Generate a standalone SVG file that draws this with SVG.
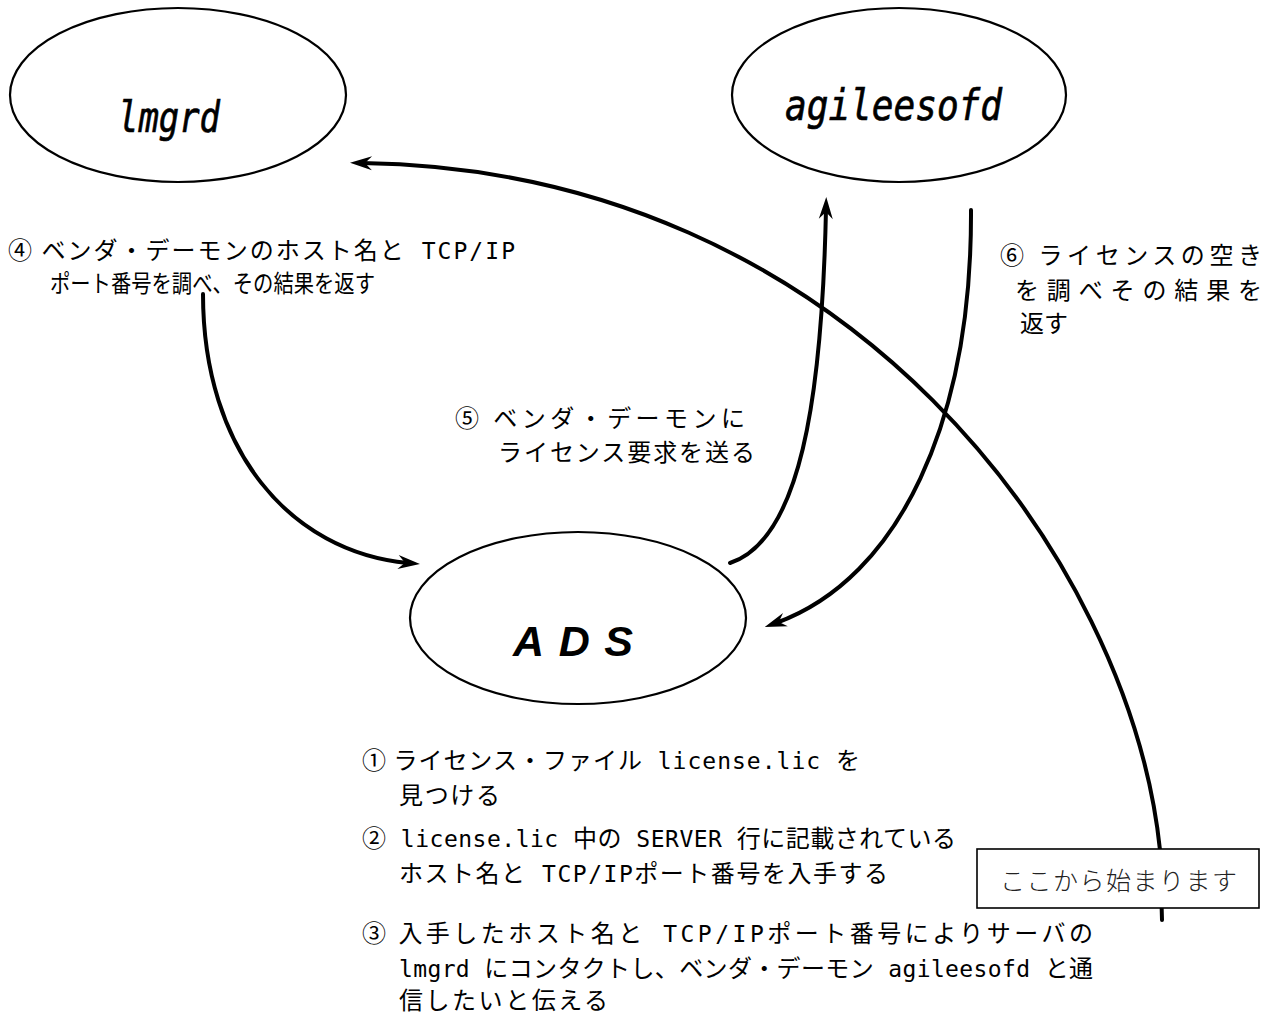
<svg xmlns="http://www.w3.org/2000/svg" width="1274" height="1017" viewBox="0 0 1274 1017">
<style>
.node{fill:#fff;stroke:#000;stroke-width:2.2}
.lbl{font-family:"DejaVu Sans Mono","Liberation Mono",monospace;font-style:oblique;font-size:42px;fill:#000;stroke:#000;stroke-width:0.7}
.ads{font-family:"Liberation Sans",Arial,sans-serif;font-style:italic;font-weight:bold;font-size:43px;fill:#000}
.t{font-family:"Noto Sans CJK JP","Noto Sans CJK SC",sans-serif;font-size:24px;font-weight:400;fill:#000}
.m{font-family:"DejaVu Sans Mono","Liberation Mono",monospace;font-size:23px}
.con{fill:none;stroke:#000;stroke-width:4;stroke-linecap:round}
.note{fill:#fff;stroke:#000;stroke-width:1.6}
.nt{font-family:"Noto Sans CJK JP",sans-serif;font-weight:300;font-size:25px;fill:#222}
</style>
<defs>
<marker id="ah" markerUnits="userSpaceOnUse" markerWidth="26" markerHeight="18" viewBox="-2 -9 26 18" refX="10" refY="0" orient="auto" overflow="visible">
<path d="M0,-7 L22,0 L0,7 L7,0 z" fill="#000"/>
</marker>
</defs>
<rect width="1274" height="1017" fill="#fff"/>

<g id="connectors">
<path class="con" d="M1162,920 L1160,850 C1130,560 850,170 362,163" marker-end="url(#ah)"/>
<path class="con" d="M203,294 C203,450 290,552 408,563" marker-end="url(#ah)"/>
<path class="con" d="M730,563 C800,540 822,400 826,209" marker-end="url(#ah)"/>
<path class="con" d="M971,210 C972,420 900,578 776,623" marker-end="url(#ah)"/>
</g>

<g id="node-lmgrd">
<ellipse class="node" cx="178" cy="95" rx="168" ry="87"/>
<text class="lbl" x="118" y="132" textLength="102" lengthAdjust="spacingAndGlyphs">lmgrd</text>
</g>

<g id="node-agileesofd">
<ellipse class="node" cx="899" cy="95" rx="167" ry="87"/>
<text class="lbl" x="785" y="120" textLength="217" lengthAdjust="spacingAndGlyphs">agileesofd</text>
</g>

<g id="node-ads">
<ellipse class="node" cx="578" cy="618" rx="168" ry="86"/>
<text class="ads" x="513" y="656" textLength="120" lengthAdjust="spacing">ADS</text>
</g>

<g id="note-start">
<rect class="note" x="977" y="849" width="282" height="59"/>
<text class="nt" x="1000" y="890" textLength="237" lengthAdjust="spacing">ここから始まります</text>
</g>

<g id="label-4">
<text class="t" x="8" y="259" textLength="507" lengthAdjust="spacing">④ ベンダ・デーモンのホスト名と<tspan class="m"> TCP/IP</tspan></text>
<text class="t" x="50" y="292" textLength="325" lengthAdjust="spacingAndGlyphs">ポート番号を調べ、その結果を返す</text>
</g>

<g id="label-5">
<text class="t" x="455" y="427" textLength="290" lengthAdjust="spacing">⑤ ベンダ・デーモンに</text>
<text class="t" x="498" y="461" textLength="257" lengthAdjust="spacing">ライセンス要求を送る</text>
</g>

<g id="label-6">
<text class="t" x="1000" y="264" textLength="262" lengthAdjust="spacing">⑥ ライセンスの空き</text>
<text class="t" x="1015" y="299" textLength="247" lengthAdjust="spacing">を調べその結果を</text>
<text class="t" x="1020" y="332">返す</text>
</g>

<g id="label-steps">
<text class="t" x="362" y="769" textLength="498" lengthAdjust="spacing">① ライセンス・ファイル<tspan class="m"> license.lic </tspan>を</text>
<text class="t" x="399" y="804" textLength="101" lengthAdjust="spacing">見つける</text>
<text class="t" x="362" y="847" textLength="594" lengthAdjust="spacing">②<tspan class="m"> license.lic </tspan>中の<tspan class="m"> SERVER </tspan>行に記載されている</text>
<text class="t" x="399" y="882" textLength="489" lengthAdjust="spacing">ホスト名と<tspan class="m"> TCP/IP</tspan>ポート番号を入手する</text>
<text class="t" x="362" y="942" textLength="731" lengthAdjust="spacing">③ 入手したホスト名と<tspan class="m"> TCP/IP</tspan>ポート番号によりサーバの</text>
<text class="t" x="399" y="977" textLength="694" lengthAdjust="spacing"><tspan class="m">lmgrd </tspan>にコンタクトし、ベンダ・デーモン<tspan class="m"> agileesofd </tspan>と通</text>
<text class="t" x="399" y="1009" textLength="209" lengthAdjust="spacing">信したいと伝える</text>
</g>
</svg>
